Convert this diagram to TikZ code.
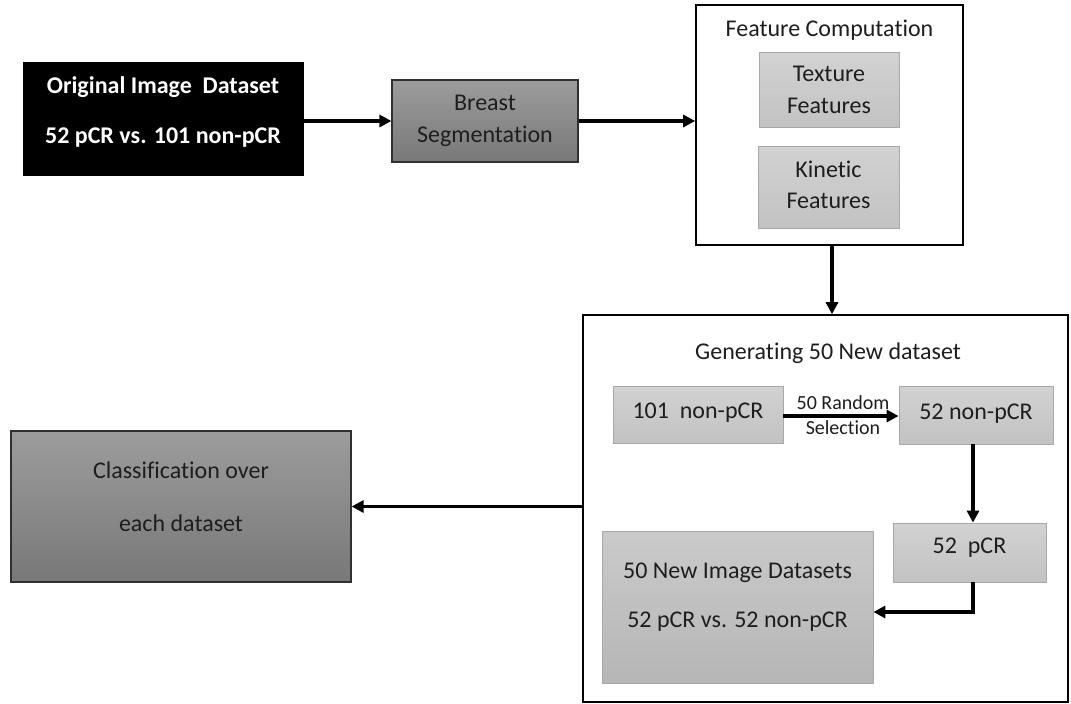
\documentclass[tikz,border=0pt]{standalone}
\usepackage{fontspec}
\setmainfont{Carlito}[Ligatures={NoCommon}]
\usetikzlibrary{arrows.meta}
\definecolor{txt}{HTML}{1E1E1E}
\definecolor{dtop}{HTML}{9C9C9C}
\definecolor{dbot}{HTML}{787878}
\definecolor{ltop}{HTML}{D2D2D2}
\definecolor{lbot}{HTML}{C2C2C2}
\definecolor{lborder}{HTML}{A8A8A8}
\definecolor{dborder}{HTML}{303030}
\newcommand{\mydepth}[1]{\rule[-#1pt]{0pt}{#1pt}}
\tikzset{
  darkbox/.style={draw=dborder, line width=1.2pt, top color=dtop, bottom color=dbot, text=txt, align=center, inner sep=0pt},
  lightbox/.style={draw=lborder, line width=0.8pt, top color=ltop, bottom color=lbot, text=txt, align=center, inner sep=0pt},
  framebox/.style={draw=black, line width=1.6pt, fill=white, inner sep=0pt},
  arr/.style={line width=3.2pt, -{Triangle[length=12pt,width=12pt]}},
  title/.style={text=txt, inner sep=0pt}
}
\begin{document}
\begin{tikzpicture}[x=1pt,y=-1pt]
\useasboundingbox (0,0) rectangle (1071,704);
% original dataset
\node[fill=black, draw=black, text=white, align=center, inner sep=0pt,
      minimum width=280pt, minimum height=113pt,
      font=\fontsize{24}{50}\selectfont\bfseries] (orig) at (163,118.5)
      {Original Image~~Dataset\\52 pCR vs. 101 non-pCR\mydepth{17}};
% breast segmentation
\node[darkbox, minimum width=186pt, minimum height=82pt,
      font=\fontsize{24}{32}\selectfont] (seg) at (485,121)
      {Breast\\Segmentation};
% feature computation
\node[framebox, minimum width=267pt, minimum height=240pt] (feat) at (829.5,125) {};
\node[title, font=\fontsize{24}{28}\selectfont] (feattitle) at (829.5,30) {Feature Computation};
\node[lightbox, minimum width=140pt, minimum height=75pt,
      font=\fontsize{24}{32}\selectfont] (tex) at (829,89.5) {Texture\\Features};
\node[lightbox, minimum width=141pt, minimum height=82pt,
      font=\fontsize{24}{31}\selectfont] (kin) at (828.5,187) {Kinetic\\Features\mydepth{5}};
% generating
\node[framebox, minimum width=485pt, minimum height=387pt] (gen) at (825.5,508.5) {};
\node[title, font=\fontsize{24}{28}\selectfont] (gentitle) at (828,353) {Generating 50 New dataset};
\node[lightbox, minimum width=170pt, minimum height=57pt,
      font=\fontsize{24}{28}\selectfont] (n101) at (698,414.5) {101~~non-pCR\mydepth{7}};
\node[lightbox, minimum width=154pt, minimum height=58pt,
      font=\fontsize{24}{28}\selectfont] (n52) at (976,415) {52 non-pCR\mydepth{7}};
\node[lightbox, minimum width=153pt, minimum height=59pt,
      font=\fontsize{24}{28}\selectfont] (pcr) at (969.5,552.5) {52~~pCR\mydepth{13}};
\node[lightbox, minimum width=271pt, minimum height=152pt, top color=ltop!96!black, bottom color=lbot!94!black,
      font=\fontsize{24}{49}\selectfont] (new) at (737.5,607)
      {50 New Image Datasets\\52 pCR vs. 52 non-pCR\mydepth{23}};
% classification
\node[darkbox, minimum width=340pt, minimum height=151pt,
      font=\fontsize{24}{53}\selectfont] (cls) at (181,506.5)
      {Classification over\\each dataset\mydepth{20}};
% connectors
\draw[arr] (orig.east |- seg.west) -- (seg.west);
\draw[arr] (seg.east) -- (seg.east -| feat.west);
\draw[arr] ([xshift=2.5pt]feat.south) -- ([xshift=2.5pt]feat.south |- gen.north);
\draw[arr] ([yshift=-1.5pt]n101.east) -- ([yshift=-1.5pt]n101.east -| n52.west)
  node[midway, above=5pt, title, font=\fontsize{20}{22}\selectfont, xshift=2pt] (rlab) {50 Random}
  node[midway, below=3pt, title, font=\fontsize{20}{22}\selectfont, xshift=2pt] (slab) {Selection};
\coordinate (c1) at (973,444);
\draw[arr] (c1) -- (c1 |- pcr.north);
\coordinate (c2) at (973,612);
\draw[arr] (c2 |- pcr.south) -- (c2) -- (c2 -| new.east);
\draw[arr] (gen.west |- cls.east) -- (cls.east);
\end{tikzpicture}
\end{document}
